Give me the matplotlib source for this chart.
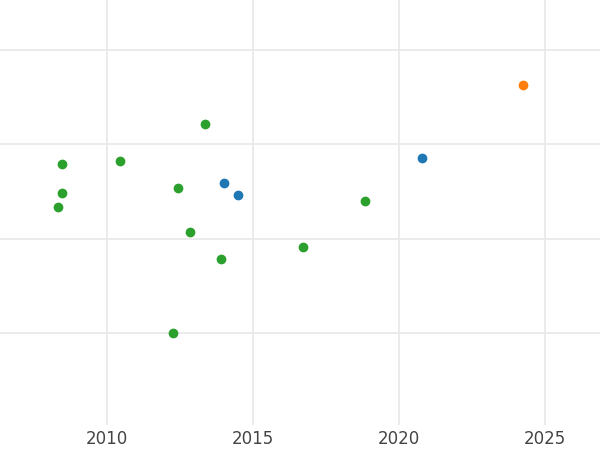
import matplotlib
matplotlib.use("Agg")
import matplotlib.pyplot as plt

green_x = [2008.46, 2008.32, 2008.46, 2010.45, 2012.43, 2013.36, 2012.84, 2013.9, 2012.26, 2016.71, 2018.84]
green_y = [1.79, 1.33, 1.48, 1.82, 1.54, 2.22, 1.07, 0.78, 0.0, 0.91, 1.40]
blue_x = [2014.0, 2014.49, 2020.79]
blue_y = [1.59, 1.46, 1.85]
orange_x = [2024.25]
orange_y = [2.63]

fig = plt.figure(figsize=(6, 4.5), dpi=100)
ax = fig.add_axes([0, 0.055, 1, 0.945])
for s in ax.spines.values():
    s.set_visible(False)
ax.set_xlim(2006.34, 2026.88)
ax.set_ylim(-0.98, 3.53)
ax.set_xticks([2010, 2015, 2020, 2025])
ax.set_yticks([0, 1, 2, 3])
ax.set_yticklabels([])
ax.tick_params(length=0, labelsize=12, labelcolor="#444444")
ax.tick_params(axis="y", pad=0)
ax.grid(True, color="#e8e8e8", linewidth=1.2)
ax.set_axisbelow(True)
ax.scatter(green_x, green_y, color="#2ca02c", s=36, zorder=3)
ax.scatter(blue_x, blue_y, color="#1f77b4", s=36, zorder=3)
ax.scatter(orange_x, orange_y, color="#ff7f0e", s=36, zorder=3)
fig.savefig("out.png")
